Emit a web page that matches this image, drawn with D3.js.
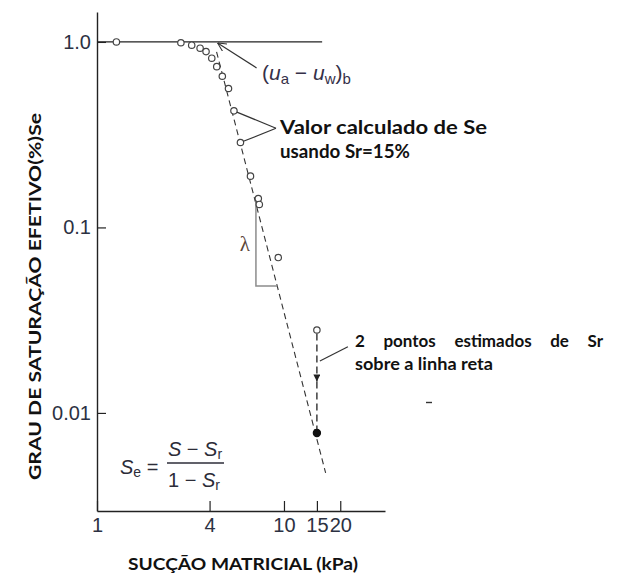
<!DOCTYPE html>
<html>
<head>
<meta charset="utf-8">
<script src="https://cdn.jsdelivr.net/npm/d3@7"></script>
<style>
  body { margin: 0; background: #fff; }
  svg { display: block; }
</style>
</head>
<body>
<svg id="chart" width="618" height="576"></svg>
<script>
// Measured points: matric suction (kPa) vs effective degree of saturation Se
const suction    = [1.27, 2.81, 3.21, 3.56, 3.83, 4.11, 4.37, 4.68, 5.05, 5.40, 5.85, 6.62, 7.29, 7.38, 9.32];
const saturation = [1.0, 0.99, 0.96, 0.925, 0.887, 0.817, 0.736, 0.653, 0.561, 0.425, 0.287, 0.189, 0.143, 0.133, 0.0688];

// Residual estimate at 15 kPa: calculated value (open) and value on the straight line (filled)
const estSuction    = [15, 15];
const estSaturation = [0.028, 0.0078];

// Straight-line fit in log-log space
const fitSuction    = [4.36, 16.7];
const fitSaturation = [0.884, 0.00475];

// Se = 1 plateau
const plateauSuction = [1, 16];
const plateauSaturation = [1, 1];

// Slope triangle (lambda)
const lambdaSuction    = [7.08, 9.21];
const lambdaSaturation = [0.1407, 0.0484];

// Axis ticks
const xTicks = [1, 4, 10, 15, 20];
const xTickLabels = ["1", "4", "10", "15", "20"];
const yTicks = [1, 0.1, 0.01];
const yTickLabels = ["1.0", "0.1", "0.01"];

const svg = d3.select("#chart");
const x = d3.scaleLog().domain([1, 34.7]).range([97, 385]);
const y = d3.scaleLog().domain([0.00296, 1.45]).range([511, 12]);

const ink = "#222";
const labelInk = "#2c3142";
const boldFont = "Lato, 'Open Sans', sans-serif";

// Markers
const defs = svg.append("defs");
defs.append("marker")
  .attr("id", "openArrow").attr("viewBox", "0 0 10 10")
  .attr("refX", 0).attr("refY", 5)
  .attr("markerWidth", 9).attr("markerHeight", 9)
  .attr("markerUnits", "userSpaceOnUse")
  .attr("orient", "auto")
  .append("path").attr("d", "M10,0 L0,5 L10,10")
  .attr("fill", "none").attr("stroke", "#333").attr("stroke-width", 1.2);
defs.append("marker")
  .attr("id", "solidArrow").attr("viewBox", "0 0 10 10")
  .attr("refX", 10).attr("refY", 5)
  .attr("markerWidth", 7).attr("markerHeight", 7)
  .attr("markerUnits", "userSpaceOnUse")
  .attr("orient", "auto")
  .append("path").attr("d", "M0,0 L10,5 L0,10 Z").attr("fill", "#222");

// Axes
const xAxis = svg.append("g").attr("transform", "translate(0,511)")
  .call(d3.axisBottom(x).tickValues(xTicks)
    .tickFormat((d, i) => xTickLabels[i])
    .tickSizeInner(-10).tickSizeOuter(0).tickPadding(7));
const yAxis = svg.append("g").attr("transform", "translate(97,0)")
  .call(d3.axisLeft(y).tickValues(yTicks)
    .tickFormat((d, i) => yTickLabels[i])
    .tickSizeInner(-9).tickSizeOuter(0).tickPadding(6));
[xAxis, yAxis].forEach(g => {
  g.select(".domain").attr("stroke", ink).attr("stroke-width", 1.4);
  g.selectAll(".tick line").attr("stroke", ink).attr("stroke-width", 1.2);
  g.selectAll(".tick text")
    .attr("fill", labelInk)
    .style("font-family", "'Liberation Sans', Arial, sans-serif")
    .style("font-size", "20px");
});

// Bold label helper
function boldText(px, py, str, width, size, adjust) {
  const t = svg.append("text")
    .attr("x", px).attr("y", py)
    .style("font-family", boldFont).style("font-weight", 700).style("font-size", size + "px")
    .attr("fill", "#111")
    .text(str);
  if (width) t.attr("textLength", width).attr("lengthAdjust", adjust || "spacingAndGlyphs");
  return t;
}

// Axis titles
boldText(243, 570, "SUCÇÃO MATRICIAL (kPa)", 230, 17.5).attr("text-anchor", "middle");
boldText(0, 0, "GRAU DE SATURAÇÃO EFETIVO(%)Se", 367, 17.5)
  .attr("transform", "translate(41,296.5) rotate(-90)")
  .attr("text-anchor", "middle");

// Se = 1 plateau line
const line = d3.line().x(d => x(d[0])).y(d => y(d[1]));
svg.append("path")
  .attr("d", line(d3.zip(plateauSuction, plateauSaturation)))
  .attr("fill", "none").attr("stroke", ink).attr("stroke-width", 1.3);

// Fitted straight line
svg.append("path")
  .attr("d", line(d3.zip(fitSuction, fitSaturation)))
  .attr("fill", "none").attr("stroke", "#333").attr("stroke-width", 1.1)
  .attr("stroke-dasharray", "6,4");

// Slope triangle
svg.append("path")
  .attr("d", `M${x(lambdaSuction[0])},${y(lambdaSaturation[0])}V${y(lambdaSaturation[1])}H${x(lambdaSuction[1])}`)
  .attr("fill", "none").attr("stroke", "#8c8c8c").attr("stroke-width", 1.5);
svg.append("text")
  .attr("x", x(lambdaSuction[0]) - 6).attr("y", (y(lambdaSaturation[0]) + y(lambdaSaturation[1])) / 2 + 8)
  .attr("text-anchor", "end")
  .style("font-family", "'Liberation Serif', 'DejaVu Serif', serif").style("font-size", "21px")
  .attr("fill", "#5a4538")
  .text("λ");

// Vertical projection from calculated to estimated value, with arrow halfway
const ex = x(estSuction[0]);
const eTop = y(estSaturation[0]) + 3.5;
const eBot = y(estSaturation[1]);
const eMid = (y(estSaturation[0]) + eBot) / 2;
svg.append("line")
  .attr("x1", ex).attr("x2", ex).attr("y1", eTop).attr("y2", eMid)
  .attr("stroke", "#222").attr("stroke-width", 1.3).attr("stroke-dasharray", "7,4")
  .attr("marker-end", "url(#solidArrow)");
svg.append("line")
  .attr("x1", ex).attr("x2", ex).attr("y1", eMid).attr("y2", eBot)
  .attr("stroke", "#222").attr("stroke-width", 1.3).attr("stroke-dasharray", "7,4");

// Measured points
svg.append("g").selectAll("circle")
  .data(d3.zip(suction, saturation))
  .join("circle")
  .attr("cx", d => x(d[0])).attr("cy", d => y(d[1])).attr("r", 3.2)
  .attr("fill", "#fff").attr("stroke", "#444").attr("stroke-width", 1.2);

// Estimated points
svg.append("g").selectAll("circle")
  .data(d3.zip(estSuction, estSaturation))
  .join("circle")
  .attr("cx", d => x(d[0])).attr("cy", d => y(d[1])).attr("r", (d, i) => i ? 3.6 : 3.2)
  .attr("fill", (d, i) => i ? "#111" : "#fff")
  .attr("stroke", (d, i) => i ? "#111" : "#444").attr("stroke-width", 1.2);

// (ua - uw)b annotation pointing at the end of the plateau
const bx = x(fitSuction[0]), by = y(1);
svg.append("line")
  .attr("x1", bx + 1).attr("y1", by + 1)
  .attr("x2", bx + 40).attr("y2", by + 26)
  .attr("stroke", "#333").attr("stroke-width", 1.2)
  .attr("marker-start", "url(#openArrow)");
const uw = svg.append("text")
  .attr("x", 262).attr("y", 80)
  .style("font-family", "'Liberation Sans', Arial, sans-serif").style("font-size", "21px")
  .attr("fill", "#353048");
uw.append("tspan").text("(");
uw.append("tspan").style("font-style", "italic").text("u");
uw.append("tspan").attr("dy", 4).style("font-size", "15px").text("a");
uw.append("tspan").attr("dy", -4).text(" − ");
uw.append("tspan").style("font-style", "italic").text("u");
uw.append("tspan").attr("dy", 4).style("font-size", "15px").text("w");
uw.append("tspan").attr("dy", -4).text(")");
uw.append("tspan").attr("dy", 4).style("font-size", "15px").text("b");

// "Valor calculado" annotation with two leader lines
const tipX = 276, tipY = 128.3;
[9, 10].forEach(i => {
  const cx = x(suction[i]), cy = y(saturation[i]);
  const a = Math.atan2(tipY - cy, tipX - cx);
  svg.append("line")
    .attr("x1", cx + 3.2 * Math.cos(a)).attr("y1", cy + 3.2 * Math.sin(a))
    .attr("x2", tipX).attr("y2", tipY)
    .attr("stroke", "#333").attr("stroke-width", 1.2);
});
boldText(280, 134, "Valor calculado de Se", 207, 18);
boldText(280, 158, "usando Sr=15%", 130, 18);

// "2 pontos" annotation: justified first line via word spacing
svg.append("line")
  .attr("x1", ex + 3).attr("y1", 361)
  .attr("x2", ex + 31).attr("y2", 346.7)
  .attr("stroke", "#333").attr("stroke-width", 1.2);
const line1 = boldText(355, 347, "2 pontos estimados de Sr", null, 17);
const natural = line1.node().getComputedTextLength();
line1.style("word-spacing", ((248 - natural) / 4) + "px");
boldText(355, 370, "sobre a linha reta", 138, 17);
svg.append("line")
  .attr("x1", 426).attr("x2", 432).attr("y1", 402.5).attr("y2", 402.5)
  .attr("stroke", "#333").attr("stroke-width", 1.4);

// Definition of Se
const fm = svg.append("g")
  .style("font-family", "'Liberation Sans', Arial, sans-serif").style("font-size", "20px")
  .attr("fill", "#2c2c38");
const se = fm.append("text").attr("x", 120).attr("y", 474);
se.append("tspan").style("font-style", "italic").text("S");
se.append("tspan").attr("dy", 3).style("font-size", "14px").text("e");
se.append("tspan").attr("dy", -3).text(" =");
const num = fm.append("text").attr("x", 195).attr("y", 456).attr("text-anchor", "middle");
num.append("tspan").style("font-style", "italic").text("S");
num.append("tspan").text(" − ");
num.append("tspan").style("font-style", "italic").text("S");
num.append("tspan").attr("dy", 3).style("font-size", "14px").text("r");
fm.append("line")
  .attr("x1", 167).attr("x2", 224).attr("y1", 463).attr("y2", 463)
  .attr("stroke", "#2c2c38").attr("stroke-width", 1.3);
const den = fm.append("text").attr("x", 194).attr("y", 487).attr("text-anchor", "middle");
den.append("tspan").text("1 − ");
den.append("tspan").style("font-style", "italic").text("S");
den.append("tspan").attr("dy", 3).style("font-size", "14px").text("r");
</script>
</body>
</html>
